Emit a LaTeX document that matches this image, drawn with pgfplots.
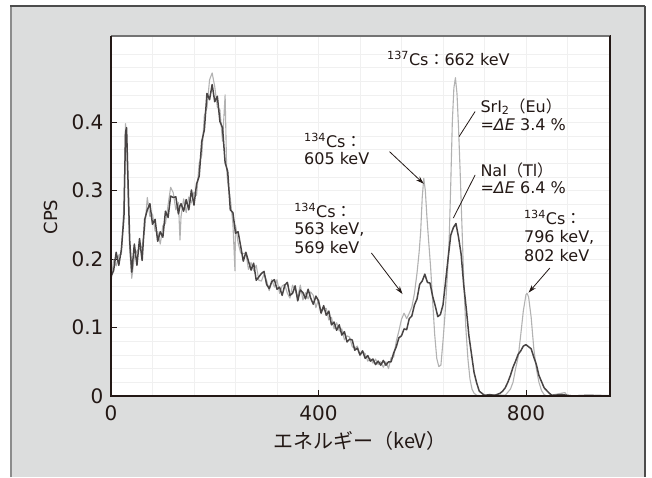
\documentclass[border=0pt]{standalone}
\usepackage{pgfplots}
\pgfplotsset{compat=1.18}
\usepackage{pgfplotstable}
\usetikzlibrary{arrows.meta}
\usepackage{fontspec}
\setmainfont{DejaVu Sans}
\newfontfamily\jp{Noto Sans CJK JP}

\definecolor{panel}{RGB}{220,221,221}
\definecolor{ink}{RGB}{35,24,21}
\definecolor{nai}{RGB}{72,68,68}
\definecolor{sri}{RGB}{178,178,178}

% NaI(Tl) spectrum
\pgfplotstableread{
E cps
0 0.175
5 0.183
10 0.210
15 0.191
20 0.214
25 0.262
28 0.385
30 0.392
33 0.310
36 0.228
40 0.181
45 0.222
50 0.191
55 0.230
60 0.198
65 0.258
70 0.272
75 0.281
80 0.251
85 0.258
90 0.226
95 0.240
100 0.232
105 0.270
110 0.261
115 0.292
120 0.290
125 0.291
130 0.266
133 0.278
135 0.281
140 0.270
145 0.287
150 0.272
155 0.301
160 0.279
165 0.310
170 0.321
175 0.372
180 0.389
185 0.442
190 0.433
195 0.455
200 0.430
205 0.438
210 0.401
215 0.392
220 0.341
225 0.328
230 0.272
235 0.268
240 0.238
245 0.240
250 0.219
255 0.197
260 0.210
265 0.197
270 0.184
275 0.194
280 0.169
285 0.174
290 0.179
295 0.182
300 0.163
305 0.157
310 0.167
315 0.170
320 0.156
325 0.159
330 0.147
335 0.162
340 0.166
345 0.147
350 0.150
355 0.161
360 0.139
365 0.155
370 0.151
375 0.142
380 0.156
385 0.143
390 0.134
395 0.146
400 0.139
405 0.121
410 0.132
415 0.118
420 0.124
425 0.104
430 0.108
435 0.096
440 0.104
445 0.089
450 0.094
455 0.079
460 0.083
465 0.082
470 0.067
475 0.070
480 0.060
485 0.066
490 0.055
495 0.059
500 0.051
505 0.054
510 0.046
515 0.051
520 0.045
525 0.052
530 0.045
535 0.050
540 0.050
545 0.063
550 0.072
555 0.085
560 0.088
565 0.098
570 0.097
575 0.113
580 0.117
585 0.133
590 0.142
595 0.163
600 0.168
605 0.178
610 0.166
615 0.165
620 0.146
625 0.132
630 0.116
635 0.119
640 0.133
645 0.167
650 0.202
655 0.235
660 0.246
665 0.252
670 0.232
675 0.207
680 0.162
685 0.127
690 0.088
695 0.061
700 0.034
705 0.019
710 0.007
715 0.004
720 0.001
730 0.002
740 0.001
750 0.004
755 0.007
760 0.012
765 0.020
770 0.030
775 0.042
780 0.051
785 0.061
790 0.066
795 0.073
800 0.075
805 0.072
810 0.069
815 0.057
820 0.046
825 0.030
830 0.021
835 0.012
840 0.008
845 0.004
850 0.001
870 0.002
890 0.000
920 0.001
960 0.000
}\nai

% SrI2(Eu) spectrum
\pgfplotstableread{
E cps
0 0.165
5 0.199
10 0.190
15 0.206
20 0.207
25 0.281
28 0.398
30 0.380
33 0.290
36 0.215
40 0.172
45 0.203
50 0.212
55 0.214
60 0.219
65 0.244
70 0.290
75 0.262
80 0.266
85 0.241
90 0.240
95 0.222
100 0.249
105 0.252
110 0.279
115 0.305
120 0.297
125 0.272
130 0.283
133 0.228
135 0.262
140 0.288
145 0.268
150 0.291
155 0.282
160 0.298
165 0.293
170 0.340
175 0.352
180 0.410
185 0.421
190 0.462
195 0.472
200 0.452
205 0.422
210 0.418
215 0.372
220 0.440
223 0.330
225 0.312
230 0.289
235 0.252
239 0.183
240 0.250
245 0.224
250 0.209
255 0.208
260 0.209
265 0.185
270 0.195
275 0.183
280 0.191
285 0.169
290 0.168
295 0.178
300 0.169
305 0.154
310 0.170
315 0.159
320 0.170
325 0.150
330 0.161
335 0.163
340 0.150
345 0.143
350 0.162
355 0.154
360 0.145
365 0.162
370 0.140
375 0.151
380 0.142
385 0.152
390 0.147
395 0.129
400 0.141
405 0.123
410 0.127
415 0.128
420 0.111
425 0.115
430 0.098
435 0.107
440 0.095
445 0.098
450 0.082
455 0.088
460 0.086
465 0.072
470 0.070
475 0.073
480 0.059
485 0.064
490 0.062
495 0.051
500 0.055
505 0.048
510 0.054
515 0.046
520 0.050
525 0.042
530 0.050
535 0.040
540 0.056
545 0.057
550 0.080
555 0.095
560 0.112
565 0.121
570 0.113
575 0.121
580 0.130
585 0.150
590 0.180
594 0.210
597 0.240
600 0.290
603 0.318
606 0.300
609 0.262
612 0.230
616 0.190
620 0.140
624 0.090
628 0.055
632 0.043
636 0.045
640 0.080
644 0.120
648 0.170
652 0.230
655 0.310
658 0.400
661 0.450
664 0.465
667 0.442
670 0.392
673 0.330
676 0.262
680 0.170
684 0.100
688 0.055
692 0.025
696 0.010
700 0.004
705 0.001
720 0.000
740 0.002
760 0.001
770 0.010
775 0.020
780 0.040
785 0.057
790 0.090
795 0.125
800 0.148
802 0.150
805 0.145
810 0.115
815 0.070
820 0.040
825 0.020
830 0.008
835 0.002
840 0.000
875 0.005
880 0.000
960 0.001
}\sri

\newcommand{\col}{{\jp ：}}

\begin{document}
\begin{tikzpicture}
\useasboundingbox (0pt,0pt) rectangle (652pt,477pt);
\fill[white] (0pt,0pt) rectangle (652pt,477pt);
\fill[panel] (11pt,0pt) rectangle (645pt,471pt);
\draw[line width=2pt, black!45] (11pt,0pt) -- (11pt,471pt);
\draw[line width=1.5pt, black!70] (10pt,471pt) -- (645pt,471pt);
\draw[line width=1.5pt, black!70] (645pt,471pt) -- (645pt,0pt);

\begin{axis}[
    at={(111pt,81pt)}, anchor=origin,
    scale only axis,
    width=499pt, height=360pt,
    xmin=0, xmax=962,
    ymin=0, ymax=0.526,
    clip=false,
    axis background/.style={fill=white},
    axis line style={line width=1pt, ink},
    xtick={0,400,800},
    ytick={0,0.1,0.2,0.3,0.4},
    minor xtick={80,160,240,320,480,560,640,720,880},
    minor ytick={0.02,0.04,0.06,0.08,0.12,0.14,0.16,0.18,0.22,0.24,0.26,0.28,0.32,0.34,0.36,0.38,0.42,0.44,0.46,0.48,0.50},
    grid=both,
    grid style={black!6, line width=0.5pt},
    minor tick length=0pt,
    major tick length=6pt,
    tick align=inside,
    xtick pos=bottom, ytick pos=left,
    tick style={ink, line width=0.9pt},
    ticklabel style={font=\fontsize{20}{24}\selectfont, text=ink},
    /pgf/number format/assume math mode=true,
    xticklabel style={yshift=-6pt},
    yticklabel style={xshift=-4pt},
    scaled ticks=false,
  ]
  \addplot[sri, line width=1.1pt, line join=round] table[x=E, y=cps] {\sri};
  \addplot[nai, line width=1.5pt, line join=round] table[x=E, y=cps] {\nai};

  % frame
  \draw[line width=1.5pt, black!55] (rel axis cs:0,1) -- (rel axis cs:1,1);
  \draw[line width=1.6pt, ink] (rel axis cs:1,0) -- (rel axis cs:1,1);
  \draw[line width=2.2pt, ink] (rel axis cs:0,1) -- (rel axis cs:0,0) -- (rel axis cs:1,0);

  % annotations
  \begin{scope}[every node/.style={anchor=base west, inner sep=0pt, text=ink, font=\fontsize{16}{19}\selectfont}]
    \node at (axis cs:532,0.483) {\textsuperscript{137}Cs\col 662 keV};
    \node at (axis cs:712,0.4145) {SrI\textsubscript{2}{\jp （}Eu{\jp ）}};
    \node at (axis cs:712,0.388) {={\itshape ΔE} 3.4 \%};
    \node at (axis cs:372,0.3633) {\textsuperscript{134}Cs\col};
    \node at (axis cs:372,0.3385) {605 keV};
    \node at (axis cs:712,0.321) {NaI{\jp （}Tl{\jp ）}};
    \node at (axis cs:712,0.296) {={\itshape ΔE} 6.4 \%};
    \node at (axis cs:353,0.261) {\textsuperscript{134}Cs\col};
    \node at (axis cs:353,0.236) {563 keV,};
    \node at (axis cs:353,0.208) {569 keV};
    \node at (axis cs:796,0.2507) {\textsuperscript{134}Cs\col};
    \node at (axis cs:796,0.2244) {796 keV,};
    \node at (axis cs:796,0.1966) {802 keV};
  \end{scope}
  \draw[ink, line width=0.8pt, -{Stealth[length=8pt,width=5pt]}] (axis cs:537,0.357) -- (axis cs:603,0.31);
  \draw[ink, line width=0.8pt, -{Stealth[length=8pt,width=5pt]}] (axis cs:502,0.209) -- (axis cs:562,0.149);
  \draw[ink, line width=0.8pt, -{Stealth[length=8pt,width=5pt]}] (axis cs:846,0.187) -- (axis cs:805,0.151);
  \draw[ink, line width=0.8pt] (axis cs:702,0.4157) -- (axis cs:671,0.379);
  \draw[ink, line width=0.8pt] (axis cs:702,0.323) -- (axis cs:660,0.26);
\end{axis}

\node[rotate=90, text=ink, font=\fontsize{18}{21}\selectfont] at (51pt,260pt) {CPS};
\node[text=ink, font=\jp\fontsize{20}{24}\selectfont] at (360pt,36pt) {エネルギー（keV）};
\end{tikzpicture}
\end{document}
